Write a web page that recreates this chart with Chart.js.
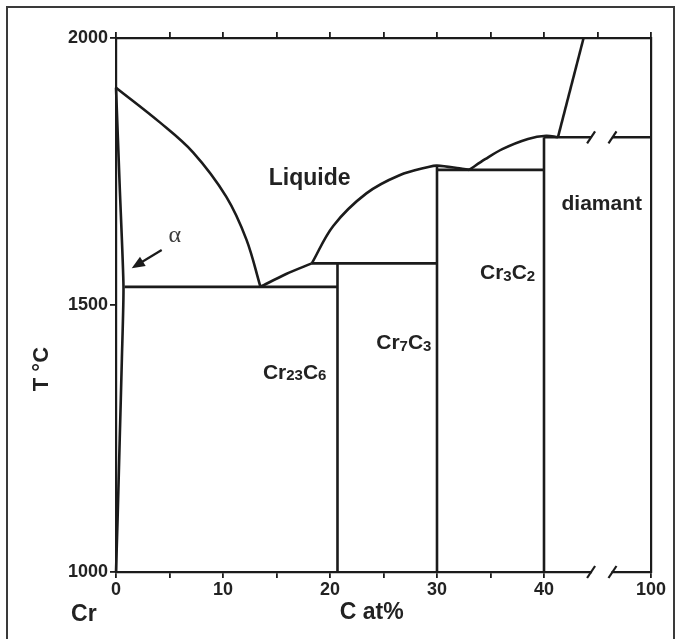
<!DOCTYPE html>
<html>
<head>
<meta charset="utf-8">
<script src="https://cdn.jsdelivr.net/npm/chart.js@4.4.0/dist/chart.umd.min.js"></script>
<style>
  html, body { margin: 0; padding: 0; background: #fff; }
  #wrap { width: 682px; height: 639px; }
</style>
</head>
<body>
<div id="wrap"><canvas id="phaseChart" width="682" height="639"></canvas></div>
<script>
// Cr - C phase diagram (x: C at%, the 100 at% end is squeezed in at x = 50)
const xTickValues = [0, 5, 10, 15, 20, 25, 30, 35, 40, 50];
const xTickLabels = ['0', '', '10', '', '20', '', '30', '', '40', '100'];
const topTickValues = [0, 5, 10, 15, 20, 25, 30, 35, 40, 45, 50];
const yTickValues = [1000, 1500, 2000];
const yTickLabels = ['1000', '1500', '2000'];
const axisBreak = [44.4, 46.4];

// phase boundaries [C at%, T °C]
const liquidusCr = [[0, 1907], [4.1, 1842], [7.2, 1786], [10.3, 1703], [12.2, 1622], [13.5, 1534]];
const solvusAlpha = [[0, 1907], [0.35, 1720], [0.7, 1534], [0.55, 1400], [0.35, 1250], [0.15, 1100], [0, 1000]];
const eutecticCr = [[0.8, 1534], [20.7, 1534]];
const liquidusCr23C6 = [[13.5, 1534], [15.9, 1558], [18.3, 1578]];
const peritecticCr23C6 = [[18.3, 1578], [30, 1578]];
const liquidusCr7C3 = [[18.3, 1578], [20.3, 1648], [23.4, 1709], [26.5, 1743], [29.3, 1759], [30, 1761], [32.1, 1756], [33, 1753]];
const eutecticCr7C3 = [[30, 1753], [40, 1753]];
const liquidusCr3C2 = [[33, 1753], [34.5, 1773], [36.1, 1792], [38.5, 1811], [40.2, 1817], [41.3, 1814]];
const liquidusGraphite = [[41.3, 1814], [43.7, 2000]];
const eutecticCr3C2a = [[40, 1814], [44.4, 1814]];
const eutecticCr3C2b = [[46.4, 1814], [50, 1814]];
const lineCr23C6 = [[20.7, 1000], [20.7, 1578]];
const lineCr7C3 = [[30, 1000], [30, 1761]];
const lineCr3C2 = [[40, 1000], [40, 1814]];

// text placed in data coordinates
const plainLabels = [
  { text: 'Liquide', x: 18.1, y: 1736, size: 23 },
  { text: 'diamant', x: 45.4, y: 1689, size: 21 },
  { text: 'C at%', x: 23.9, y: 923, size: 23 },
  { text: 'Cr', x: -3.0, y: 920, size: 23 }
];
const formulaLabels = [
  { parts: [['Cr', 0], ['23', 1], ['C', 0], ['6', 1]], x: 16.7, y: 1376 },
  { parts: [['Cr', 0], ['7', 1], ['C', 0], ['3', 1]], x: 26.9, y: 1431 },
  { parts: [['Cr', 0], ['3', 1], ['C', 0], ['2', 1]], x: 36.6, y: 1562 }
];
const alphaArrow = { from: [4.27, 1603], to: [1.47, 1569], label: [5.5, 1629] };
const yTitle = { text: 'T °C', x: -6.9, y: 1380 };

const INK = '#1b1b1b';
const FONT = '"Liberation Sans", Arial, Helvetica, sans-serif';

function boundary(points, tension) {
  return {
    data: points.map(([x, y]) => ({ x, y })),
    showLine: true,
    borderColor: INK,
    borderWidth: 2.6,
    pointRadius: 0,
    fill: false,
    clip: false,
    tension: tension || 0
  };
}

const decor = {
  id: 'decor',
  beforeDraw(chart) {
    const ctx = chart.ctx;
    ctx.save();
    ctx.fillStyle = '#fff';
    ctx.fillRect(0, 0, chart.width, chart.height);
    // outer frame of the figure
    ctx.strokeStyle = '#3a3a3a';
    ctx.lineWidth = 2;
    ctx.beginPath();
    ctx.moveTo(7, chart.height);
    ctx.lineTo(7, 7);
    ctx.lineTo(674, 7);
    ctx.lineTo(674, chart.height);
    ctx.stroke();
    ctx.restore();
  },
  afterDraw(chart) {
    const { ctx, scales: { x, y } } = chart;
    const px = v => x.getPixelForValue(v);
    const py = v => y.getPixelForValue(v);
    ctx.save();

    // break on the bottom axis
    const yAxis = py(1000);
    ctx.fillStyle = '#fff';
    ctx.fillRect(px(axisBreak[0]) + 1, yAxis - 3, px(axisBreak[1]) - px(axisBreak[0]) - 2, 6);
    ctx.strokeStyle = INK;
    ctx.lineWidth = 2.2;
    [yAxis, py(1814)].forEach(yy => {
      axisBreak.forEach(bx => {
        ctx.beginPath();
        ctx.moveTo(px(bx) - 4, yy + 6);
        ctx.lineTo(px(bx) + 4, yy - 6);
        ctx.stroke();
      });
    });

    // arrow pointing at the alpha field
    const ax0 = px(alphaArrow.from[0]), ay0 = py(alphaArrow.from[1]);
    const ax1 = px(alphaArrow.to[0]), ay1 = py(alphaArrow.to[1]);
    const ang = Math.atan2(ay1 - ay0, ax1 - ax0);
    ctx.lineWidth = 2.2;
    ctx.beginPath();
    ctx.moveTo(ax0, ay0);
    ctx.lineTo(ax1 - 8 * Math.cos(ang), ay1 - 8 * Math.sin(ang));
    ctx.stroke();
    ctx.fillStyle = INK;
    ctx.beginPath();
    ctx.moveTo(ax1, ay1);
    ctx.lineTo(ax1 - 13 * Math.cos(ang) + 5.5 * Math.sin(ang), ay1 - 13 * Math.sin(ang) - 5.5 * Math.cos(ang));
    ctx.lineTo(ax1 - 13 * Math.cos(ang) - 5.5 * Math.sin(ang), ay1 - 13 * Math.sin(ang) + 5.5 * Math.cos(ang));
    ctx.closePath();
    ctx.fill();

    ctx.fillStyle = '#3c3c3c';
    ctx.font = `24px "Liberation Serif", "DejaVu Serif", serif`;
    ctx.textAlign = 'center';
    ctx.textBaseline = 'middle';
    ctx.fillText('α', px(alphaArrow.label[0]), py(alphaArrow.label[1]));

    // plain bold labels
    ctx.fillStyle = '#222';
    plainLabels.forEach(l => {
      ctx.font = `bold ${l.size}px ${FONT}`;
      ctx.fillText(l.text, px(l.x), py(l.y));
    });

    // formulas with small indices
    formulaLabels.forEach(l => {
      const widths = l.parts.map(([t, sub]) => {
        ctx.font = `bold ${sub ? 15 : 21}px ${FONT}`;
        return ctx.measureText(t).width;
      });
      const total = widths.reduce((a, b) => a + b, 0);
      let cx = px(l.x) - total / 2;
      const base = py(l.y) + 7.5;
      ctx.textAlign = 'left';
      ctx.textBaseline = 'alphabetic';
      l.parts.forEach(([t, sub], i) => {
        ctx.font = `bold ${sub ? 15 : 21}px ${FONT}`;
        ctx.fillText(t, cx, base + (sub ? 1.5 : 0));
        cx += widths[i];
      });
      ctx.textAlign = 'center';
      ctx.textBaseline = 'middle';
    });

    // y axis title, rotated
    ctx.save();
    ctx.translate(px(yTitle.x), py(yTitle.y));
    ctx.rotate(-Math.PI / 2);
    ctx.font = `bold 22px ${FONT}`;
    ctx.fillText(yTitle.text, 0, 0);
    ctx.restore();

    ctx.restore();
  }
};

const tickFont = { family: FONT, size: 18, weight: 'bold' };

new Chart(document.getElementById('phaseChart'), {
  type: 'scatter',
  data: {
    datasets: [
      boundary(liquidusCr, 0.35),
      boundary(solvusAlpha, 0.2),
      boundary(eutecticCr),
      boundary(liquidusCr23C6, 0.3),
      boundary(peritecticCr23C6),
      boundary(liquidusCr7C3, 0.35),
      boundary(eutecticCr7C3),
      boundary(liquidusCr3C2, 0.35),
      boundary(liquidusGraphite),
      boundary(eutecticCr3C2a),
      boundary(eutecticCr3C2b),
      boundary(lineCr23C6),
      boundary(lineCr7C3),
      boundary(lineCr3C2)
    ]
  },
  options: {
    responsive: false,
    animation: false,
    events: [],
    layout: { padding: 0 },
    plugins: { legend: { display: false }, tooltip: { enabled: false } },
    scales: {
      x: {
        type: 'linear', position: 'bottom', min: 0, max: 50,
        afterBuildTicks: s => { s.ticks = xTickValues.map(v => ({ value: v })); },
        afterFit: s => { s.height = 67; },
        ticks: { font: tickFont, color: '#222', padding: 1, maxRotation: 0, autoSkip: false,
                 callback: (v, i) => xTickLabels[i] },
        grid: { drawOnChartArea: false, tickLength: 6, color: INK, lineWidth: 1.8 },
        border: { display: true, color: INK, width: 2.2 }
      },
      x2: {
        type: 'linear', position: 'top', min: 0, max: 50,
        afterBuildTicks: s => { s.ticks = topTickValues.map(v => ({ value: v })); },
        afterFit: s => { s.height = 38; },
        ticks: { callback: () => '', autoSkip: false },
        grid: { drawOnChartArea: false, tickLength: 6, color: INK, lineWidth: 1.8 },
        border: { display: true, color: INK, width: 2.2 }
      },
      y: {
        type: 'linear', position: 'left', min: 1000, max: 2000,
        afterBuildTicks: s => { s.ticks = yTickValues.map(v => ({ value: v })); },
        afterFit: s => { s.width = 116; },
        ticks: { font: tickFont, color: '#222', padding: 2, callback: (v, i) => yTickLabels[i] },
        grid: { drawOnChartArea: false, tickLength: 6, color: INK, lineWidth: 1.8 },
        border: { display: true, color: INK, width: 2.2 }
      },
      y2: {
        type: 'linear', position: 'right', min: 1000, max: 2000,
        afterFit: s => { s.width = 31; },
        ticks: { display: false },
        grid: { display: false },
        border: { display: true, color: INK, width: 2.2 }
      }
    }
  },
  plugins: [decor]
});
</script>
</body>
</html>
